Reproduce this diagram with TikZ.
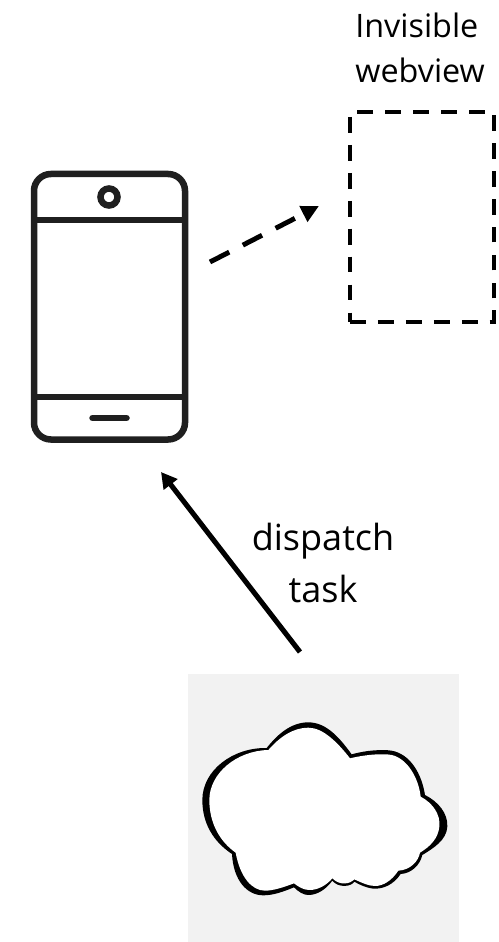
\documentclass[tikz,border=0pt]{standalone}
\usepackage{fontspec}
\setmainfont{Open Sans}
\usetikzlibrary{arrows.meta,positioning}
\tikzset{
  phonepart/.style={line width=3.7pt,draw=black!88},
  webviewbox/.style={draw,line width=2.45pt,dash pattern=on 9pt off 6.9pt,inner sep=0pt},
  viewlabel/.style={font=\fontsize{18.4}{25.5}\selectfont,inner sep=0pt},
  tasklabel/.style={font=\fontsize{20.5}{29.5}\selectfont,inner sep=0pt},
  dasharrow/.style={line width=2.8pt,dash pattern=on 12.3pt off 8.7pt,-{Triangle[length=10pt,width=9.5pt]}},
  taskarrow/.style={line width=2.9pt,-{Triangle[length=9pt,width=9.5pt]}}
}
\begin{document}
\begin{tikzpicture}[x=0.02cm,y=-0.02cm]
    \useasboundingbox (0,0) rectangle (498,942);
    % phone
    \draw[phonepart,rounded corners=9.6pt] (34,174) rectangle (185,439.5);
    \draw[phonepart] (34,220) -- (185,220) (34,397) -- (185,397);
    \draw[phonepart] (109,197) circle (8.5);
    \draw[phonepart,line cap=round] (92.5,418) -- (126.5,418);
    \node (phone) [minimum width=3.02cm,minimum height=5.32cm,inner sep=0pt] at (109.5,307) {};
    % webview
    \node (webview) [webviewbox,minimum width=2.88cm,minimum height=4.2cm] at (422,217) {};
    \node (webviewlabel) [viewlabel,align=left,anchor=south west] at (355,83) {Invisible\\webview};
    % cloud
    \node (cloudbox) [fill=black!5,minimum width=5.42cm,minimum height=5.36cm,inner sep=0pt] at (323.5,808) {};
    \begin{scope}[shift={(170,660)},x=0.00667cm,y=-0.00667cm]
    \fill[black] (290,264) .. controls (325,220) and (365,187) .. (415,187) .. controls (470,187) and (510,235) .. (545,283) .. controls (590,270) and (640,268) .. (665,272) .. controls (720,282) and (755,340) .. (765,405) .. controls (805,425) and (834,460) .. (832,500) .. controls (830,540) and (790,565) .. (757,585) .. controls (750,615) and (725,640) .. (692,642) .. controls (670,675) and (640,686) .. (615,686) .. controls (595,686) and (570,675) .. (553,665) .. controls (545,680) and (505,685) .. (487,662) .. controls (470,685) and (445,705) .. (415,705) .. controls (400,705) and (385,695) .. (372,682) .. controls (340,695) and (310,706) .. (280,706) .. controls (230,706) and (190,660) .. (186,582) .. controls (130,545) and (97,490) .. (97,420) .. controls (97,330) and (190,262) .. (290,264) -- cycle;
    \fill[white] (295,270) .. controls (330,230) and (370,203) .. (415,203) .. controls (460,203) and (505,250) .. (540,295) .. controls (590,283) and (640,280) .. (665,285) .. controls (710,295) and (745,350) .. (752,410) .. controls (790,430) and (812,465) .. (808,500) .. controls (805,535) and (780,560) .. (750,578) .. controls (745,605) and (720,630) .. (685,632) .. controls (665,662) and (640,678) .. (615,678) .. controls (595,678) and (575,668) .. (553,658) .. controls (540,672) and (510,678) .. (487,655) .. controls (470,675) and (445,690) .. (418,690) .. controls (400,690) and (385,680) .. (372,670) .. controls (340,682) and (310,692) .. (285,692) .. controls (245,692) and (210,650) .. (197,578) .. controls (150,545) and (118,490) .. (118,420) .. controls (118,340) and (200,272) .. (295,270) -- cycle;
    \end{scope}
    % connectors
    \coordinate (viewfrom) at (210,262);
    \coordinate (viewto) at (319,206);
    \coordinate (taskfrom) at (300,652);
    \coordinate (taskto) at (161,472);
    \draw[dasharrow] (viewfrom) -- (viewto);
    \draw[taskarrow] (taskfrom) -- (taskto);
    \node (dispatchlabel) [tasklabel,align=center] at (323,563) {dispatch\\task};
  \end{tikzpicture}
\end{document}
